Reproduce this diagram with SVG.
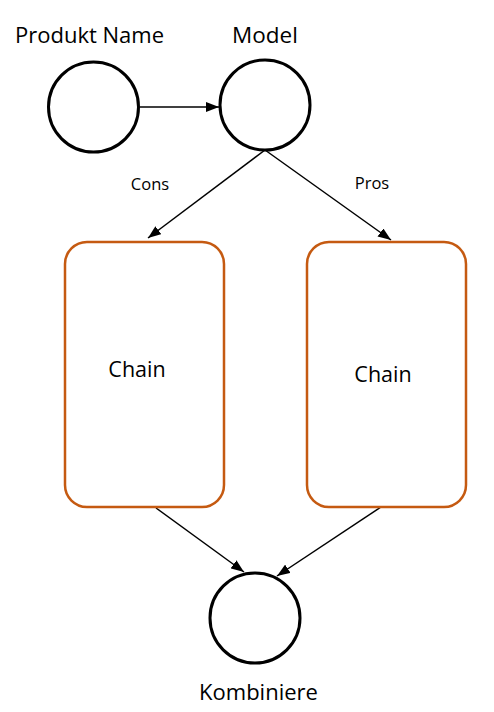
<svg xmlns="http://www.w3.org/2000/svg" width="494" height="712" viewBox="0 0 494 712">
<defs>
<marker id="ah" markerWidth="13" markerHeight="10" refX="13" refY="5" orient="auto" markerUnits="userSpaceOnUse">
<path d="M0,0 L13,5 L0,10 Z" fill="#000"/>
</marker>
<style>
.c{fill:#fff;stroke:#000;stroke-width:3}
.b{fill:#fff;stroke:#C55A11;stroke-width:2.5}
.e{stroke:#000;stroke-width:1.5;fill:none;marker-end:url(#ah)}
.t{font-family:"Open Sans","Liberation Sans",sans-serif;fill:#000;text-anchor:middle}
</style>
</defs>
<rect width="494" height="712" fill="#fff"/>
<g id="connectors">
<line class="e" x1="140" y1="107" x2="219" y2="107"/>
<line class="e" x1="265" y1="150" x2="148" y2="238"/>
<line class="e" x1="265" y1="150" x2="391" y2="240"/>
<line class="e" x1="156" y1="508" x2="244" y2="572"/>
<line class="e" x1="381" y1="507" x2="277" y2="576"/>
<text class="t" x="150" y="190" font-size="16.5">Cons</text>
<text class="t" x="372" y="189" font-size="16.5">Pros</text>
</g>
<g id="produkt">
<circle class="c" cx="93.5" cy="107" r="45"/>
<text class="t" x="89.5" y="43" font-size="22">Produkt Name</text>
</g>
<g id="model">
<circle class="c" cx="265" cy="105" r="45"/>
<text class="t" x="265" y="43" font-size="22.5">Model</text>
</g>
<g id="chain1">
<rect class="b" x="65" y="242" width="159" height="265" rx="22"/>
<text class="t" x="137" y="377" font-size="21.5">Chain</text>
</g>
<g id="chain2">
<rect class="b" x="307" y="242" width="159" height="265" rx="22"/>
<text class="t" x="383" y="382" font-size="21.5">Chain</text>
</g>
<g id="kombiniere">
<circle class="c" cx="255" cy="618" r="45"/>
<text class="t" x="258.5" y="700" font-size="22">Kombiniere</text>
</g>
</svg>
